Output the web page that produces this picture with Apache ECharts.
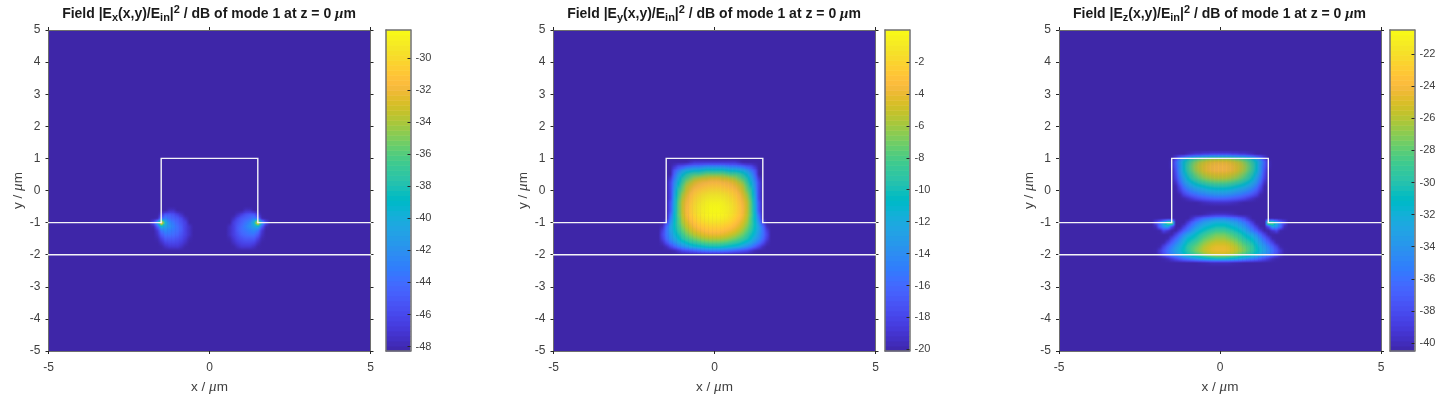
<!DOCTYPE html>
<html><head><meta charset="utf-8">
<style>html,body{margin:0;padding:0;background:#fff}#c{width:1445px;height:394px}</style>
<script src="https://cdn.jsdelivr.net/npm/echarts@6/dist/echarts.min.js"></script>
</head><body><div id="c"></div>
<script>
// Values are dB. Rows hold x = 0, 0.125, 0.25 ... on the right half; the field is mirror symmetric in x.
const cellStep = 0.125;
const exY = [-0.625,-0.75,-0.875,-1,-1.125,-1.25,-1.375,-1.5,-1.625,-1.75];
const exRows = [
[-49,-49,-49,-49,-49,-49,-49,-49,-49,-47.5,-47.5],
[-49,-49,-49,-49,-49,-49,-49,-47.5,-46.5,-45.5,-45,-45,-47],
[-49,-49,-49,-49,-49,-49,-47.5,-46,-45,-44.5,-44,-43,-44,-48],
[-49,-49,-49,-49,-49,-49,-46.5,-45.5,-44.5,-43.5,-42.5,-39.5,-29,-41,-46],
[-49,-49,-49,-49,-49,-47.5,-46.5,-45,-44,-43,-42,-41,-40,-45,-48],
[-49,-49,-49,-49,-49,-47.5,-46.5,-45,-44,-43.5,-43,-42.5,-43.5,-47],
[-49,-49,-49,-49,-49,-47.5,-46.5,-45.5,-44.5,-44,-43.7,-43.7,-45,-47.5],
[-49,-49,-49,-49,-49,-48,-47,-46,-45.5,-45,-45,-45,-46.5,-48],
[-49,-49,-49,-49,-49,-49,-47.5,-46.7,-46.2,-46,-46,-46.3,-47.5],
[-49,-49,-49,-49,-49,-49,-48.2,-47.5,-47,-47,-47,-47.5,-48.2]
];
const eyY = [0.875,0.75,0.625,0.5,0.375,0.25,0.125,0,-0.125,-0.25,-0.375,-0.5,-0.625,-0.75,-0.875,-1,-1.125,-1.25,-1.375,-1.5,-1.625,-1.75,-1.875];
const eyRows = [
[-19,-19,-19,-19,-19,-19,-19.5],
[-14,-14,-14,-14.5,-15,-15,-15.5,-16,-17,-17.5,-19],
[-10,-10,-10,-10.5,-11,-11,-11.5,-12,-13,-15,-17],
[-7,-7,-7,-7.5,-8,-8,-8.5,-9.5,-11,-13,-16],
[-4.5,-4.5,-5,-5,-5.5,-6,-7,-8,-9.5,-12,-15,-19],
[-3.3,-3.3,-3.5,-3.7,-4,-4.5,-5.5,-6.5,-8.5,-11,-14,-18],
[-2.5,-2.5,-2.7,-3,-3.3,-3.8,-4.5,-5.5,-7.5,-10,-13.5,-18],
[-1.7,-1.7,-2,-2.2,-2.6,-3,-4,-5,-7,-9,-13,-18],
[-1,-1,-1.2,-1.5,-2,-2.5,-3.3,-4.5,-6,-8.5,-12.5,-18],
[-0.6,-0.6,-0.8,-1.1,-1.6,-2.1,-3,-4,-5.5,-8,-12,-18],
[-0.2,-0.2,-0.4,-0.8,-1.3,-1.9,-2.7,-3.7,-5,-7.5,-12,-17],
[0,0,-0.3,-0.6,-1.1,-1.7,-2.5,-3.5,-5,-7.5,-11.5,-17],
[0,0,-0.3,-0.6,-1.1,-1.7,-2.5,-3.5,-5,-7.5,-11.5,-17],
[-0.3,-0.3,-0.5,-0.8,-1.3,-1.9,-2.7,-3.7,-5.2,-7.5,-11,-16],
[-0.7,-0.7,-0.9,-1.2,-1.7,-2.3,-3.1,-4.1,-5.5,-8,-11,-15],
[-1.4,-1.4,-1.6,-1.9,-2.3,-2.9,-3.7,-4.7,-6,-8,-10.5,-14,-18],
[-2.2,-2.2,-2.4,-2.7,-3,-3.6,-4.3,-5.3,-6.7,-8.5,-10.5,-13,-16,-19.5],
[-3,-3,-3.2,-3.5,-3.9,-4.4,-5.2,-6.2,-7.5,-9,-11,-13,-15.5,-18.5],
[-4,-4,-4.2,-4.5,-5,-5.5,-6.3,-7.2,-8.5,-10,-11.5,-13.5,-15.5,-18],
[-5.5,-5.5,-5.7,-6,-6.5,-7,-7.7,-8.5,-9.5,-11,-12.5,-14,-16,-18.5],
[-7.5,-7.5,-7.7,-8,-8.5,-9,-9.5,-10.5,-11.5,-12.5,-14,-15.5,-17.5,-19.5],
[-10,-10,-10.3,-10.7,-11,-11.5,-12,-13,-14,-15,-16.5,-18,-19.5],
[-15,-15,-15.2,-15.5,-16,-16.5,-17,-17.5,-18,-19,-19.8]
];
const ezY = [1.125,1,0.875,0.75,0.625,0.5,0.375,0.25,0.125,0,-0.125,-0.25,-0.375,-0.75,-0.875,-1,-1.125,-1.25,-1.375,-1.5,-1.625,-1.75,-1.875,-2,-2.125,-2.25];
const ezRows = [
[-38,-38,-38,-38.5,-38.5,-39,-39,-39.5,-40],
[-27,-27,-27,-27.5,-28,-28.5,-29,-30,-31,-33,-35,-38],
[-24.5,-24.5,-24.7,-25,-25.5,-26,-27,-28,-29.5,-31,-33.5,-36.5,-40],
[-24,-24,-24.2,-24.5,-25,-25.6,-26.4,-27.6,-29,-31,-34,-37,-40],
[-24,-24,-24.2,-24.5,-25,-25.8,-26.6,-27.8,-29.2,-31.2,-34,-37.5,-40.5],
[-25,-25,-25.2,-25.5,-26,-26.7,-27.5,-28.7,-30,-32,-34.5,-38],
[-26,-26,-26.2,-26.6,-27,-27.7,-28.5,-29.5,-31,-33,-35.5,-38.5],
[-28,-28,-28.2,-28.5,-29,-29.5,-30.3,-31.2,-32.5,-34,-36.5,-39.5],
[-30,-30,-30.2,-30.5,-31,-31.5,-32,-33,-34,-35.5,-38,-40.3],
[-32,-32,-32.2,-32.5,-33,-33.5,-34,-34.7,-35.7,-37,-39,-40.4],
[-34,-34,-34.2,-34.5,-35,-35.3,-36,-36.5,-37.5,-38.5,-40.2],
[-36.5,-36.5,-36.7,-37,-37.3,-37.7,-38.2,-39,-39.7,-40.3],
[-39.5,-39.5,-39.6,-39.8,-40,-40.3],
[-39.5,-39.5,-39.7,-40,-40.3],
[-34.5,-34.5,-35,-35.5,-36,-37,-38,-39.5],
[-32,-32,-32.3,-33,-33.5,-34.5,-35.5,-37,-39,-41,-41,-41,-26,-28,-32,-36,-38.5],
[-30.5,-30.5,-31,-31.5,-32,-33,-34,-35.5,-37,-39,-41,-41,-38,-33,-34,-36.5,-40],
[-29,-29,-29.5,-30,-30.7,-31.5,-32.5,-34,-35.5,-37,-39,-41,-41,-39.5,-38.5,-40.4],
[-27.5,-27.5,-28,-28.5,-29.2,-30,-31,-32,-33,-34.5,-36.5,-38.5,-40.3],
[-26.5,-26.5,-27,-27.5,-28,-29,-30,-30.8,-31.5,-33,-34.8,-36.6,-38.4,-40.3],
[-25.5,-25.5,-25.8,-26.3,-27,-27.8,-28.8,-29.6,-30.5,-32,-33.6,-35.2,-36.8,-38.6,-40.3],
[-24.7,-24.7,-25,-25.5,-26,-27,-27.8,-28.6,-29.5,-31,-32.5,-33.8,-35.3,-36.8,-38.5,-40.3],
[-24.5,-24.5,-24.7,-25.2,-25.7,-26.5,-27.3,-28.4,-29.5,-30.7,-32,-33.2,-34.5,-36,-37.5,-39.2,-40.4],
[-25.5,-25.5,-25.8,-26.3,-27,-28,-28.8,-29.6,-30.5,-31.5,-33,-34,-35,-36.5,-38,-39.5,-40.4],
[-31,-31,-31.3,-31.8,-32.3,-33,-33.7,-34.5,-35.3,-36,-37,-38,-39,-40,-40.4],
[-40,-40,-40,-40.2,-40.3,-40.4]
];
const ribX = [-5,-1.5,-1.5,1.5,1.5,5];
const ribY = [-1,-1,1,1,-1,-1];
const substrateX = [-5,5];
const substrateY = [-2,-2];
const exBar = [-48,-46,-44,-42,-40,-38,-36,-34,-32,-30];
const eyBar = [-20,-18,-16,-14,-12,-10,-8,-6,-4,-2];
const ezBar = [-40,-38,-36,-34,-32,-30,-28,-26,-24,-22];
const parulaRGB = [[.2422,.1504,.6603],[.2504,.165,.7076],[.2578,.1818,.7511],[.2647,.1978,.7952],[.2706,.2147,.8364],[.2751,.2342,.871],[.2783,.2559,.8991],[.2803,.2782,.9221],[.2813,.3006,.9414],[.281,.3228,.9579],[.2795,.3447,.9717],[.276,.3667,.9829],[.2699,.3892,.9906],[.2602,.4123,.9952],[.244,.4358,.9988],[.2206,.4603,.9973],[.1963,.4847,.9892],[.1834,.5074,.9798],[.1786,.5289,.9682],[.1764,.5499,.952],[.1687,.5703,.9359],[.154,.5902,.9218],[.146,.6091,.9079],[.138,.6276,.8973],[.1248,.6459,.8883],[.1113,.6635,.8763],[.0952,.6798,.8598],[.0689,.6948,.8394],[.0297,.7082,.8163],[.0036,.7203,.7917],[.0067,.7312,.766],[.0433,.7411,.7394],[.0964,.75,.712],[.1408,.7584,.6842],[.1717,.767,.6554],[.1938,.7758,.6251],[.2161,.7843,.5923],[.247,.7918,.5567],[.2906,.7973,.5188],[.3406,.8008,.4789],[.3909,.8029,.4354],[.4456,.8024,.3909],[.5044,.7993,.348],[.5616,.7942,.3045],[.6174,.7876,.2612],[.672,.7793,.2227],[.7242,.7698,.191],[.7738,.7598,.1646],[.8203,.7498,.1535],[.8634,.7406,.1596],[.9035,.733,.1774],[.9393,.7288,.21],[.9728,.7298,.2394],[.9956,.7434,.2371],[.997,.7659,.2199],[.9952,.7893,.2028],[.9892,.8136,.1885],[.9786,.8386,.1766],[.9676,.8639,.1643],[.961,.889,.1537],[.9597,.9135,.1423],[.9628,.9373,.1265],[.9691,.9606,.1064],[.9769,.9839,.0805]];
const parula = parulaRGB.map(c=>`rgb(${c.map(v=>Math.round(v*255)).join(',')})`);

const FONT = '"Liberation Sans", Arial, sans-serif';
const serif = '"Liberation Serif", serif';
const TXT = '#404040', FRAME = '#6e6e6e', TICK = '#262626';
const panels = [
 {sub:'x', rows:exRows, ys:exY, min:-48.27, max:-28.27, bar:exBar, gx:48.5, cx:386},
 {sub:'y', rows:eyRows, ys:eyY, min:-20.1, max:0, bar:eyBar, gx:553.5, cx:885},
 {sub:'z', rows:ezRows, ys:ezY, min:-40.5, max:-20.5, bar:ezBar, gx:1059, cx:1390}
];
const GW=322, GH=321, GT=30, CW=24.5, STRIPS=4;

// Shading between cell centres, the way the original's interpolated shading does it; only the display is smoothed.
const colorOf=(v,P)=>{
  const t=Math.min(63,Math.max(0,(v-P.min)/(P.max-P.min)*63)), i=Math.min(62,Math.floor(t)), f=t-i;
  const a=parulaRGB[i], b=parulaRGB[i+1];
  return `rgb(${[0,1,2].map(k=>Math.round((a[k]+(b[k]-a[k])*f)*255)).join(',')})`;
};
const fieldAt=(P,x,y)=>{
  const fx=x/cellStep, fy=y/cellStep, ix=Math.floor(fx+1e-6), iy=Math.floor(fy+1e-6), dx=fx-ix, dy=fy-iy;
  const g=(a,b)=>{const v=P.map.get(a+','+b);return v===undefined?P.min:v;};
  return (g(ix,iy)*(1-dx)+g(ix+1,iy)*dx)*(1-dy)+(g(ix,iy+1)*(1-dx)+g(ix+1,iy+1)*dx)*dy;
};
const cellRender = P => (p,api)=>{
  const x=api.value(0), y=api.value(1), h=cellStep/2, children=[];
  for(let s=0;s<STRIPS;s++){
    const top=y+h-s*2*h/STRIPS, bot=top-2*h/STRIPS, mid=(top+bot)/2;
    const a=api.coord([x-h,top]), b=api.coord([x+h,bot]);
    children.push({type:'rect',shape:{x:a[0],y:a[1],width:b[0]-a[0]+.4,height:b[1]-a[1]+.4},
      style:{fill:new echarts.graphic.LinearGradient(0,0,1,0,[
        {offset:0,color:colorOf(fieldAt(P,x-h,mid),P)},
        {offset:.5,color:colorOf(fieldAt(P,x,mid),P)},
        {offset:1,color:colorOf(fieldAt(P,x+h,mid),P)}])}});
  }
  return {type:'group',children};
};
const barRender = (min,max)=>(p,api)=>{
  const v=api.value(1), h=(max-min)/64/2;
  const a=api.coord([0,v+h]), b=api.coord([1,v-h]);
  return {type:'rect',shape:{x:a[0],y:a[1],width:b[0]-a[0],height:b[1]-a[1]+.5},style:{fill:api.visual('color')}};
};
const pairs=(xs,ys)=>xs.map((x,i)=>[x,ys[i]]);
const grid=[],xAxis=[],yAxis=[],series=[],visualMap=[],title=[];
const axName={n:{fontFamily:FONT,fontSize:13.5,color:TXT},i:{fontFamily:serif,fontStyle:'italic',fontSize:15,color:TXT}};
panels.forEach(P=>{
  P.map=new Map();
  P.rows.forEach((r,j)=>r.forEach((v,i)=>{
    if(v<=P.min) return;
    const iy=Math.round(P.ys[j]/cellStep);
    P.map.set(i+','+iy,v);
    P.map.set((-i)+','+iy,v);
  }));
  const cellKeys=new Set();
  P.map.forEach((v,k)=>{const [a,b]=k.split(',').map(Number);
    for(let da=-1;da<=1;da++)for(let db=-1;db<=1;db++)cellKeys.add((a+da)+','+(b+db));});
  const cells=[...cellKeys].map(k=>{const [a,b]=k.split(',').map(Number);
    return [a*cellStep,b*cellStep,P.map.has(k)?P.map.get(k):P.min];});
  const barData=[];
  for(let i=0;i<64;i++){const v=P.min+(i+.5)*(P.max-P.min)/64;barData.push([0,v,v]);}
  const g=grid.length;
  grid.push({left:P.gx,top:GT,width:GW,height:GH,show:true,backgroundColor:parula[0],borderWidth:0,outerBoundsMode:'none'});
  grid.push({left:P.cx,top:GT,width:CW,height:GH,show:false,outerBoundsMode:'none'});
  const hiddenLabel={show:false};
  const line={show:true,onZero:false,lineStyle:{color:FRAME,width:1}};
  const barLine={show:true,onZero:false,lineStyle:{color:'#707070',width:1.5}};
  const tickOut={show:true,length:3,inside:false,lineStyle:{color:TICK,width:1}};
  const lab={color:TXT,fontSize:12,fontFamily:FONT};
  const ax0=xAxis.length;
  xAxis.push({gridIndex:g,type:'value',min:-5,max:5,interval:5,position:'bottom',axisLine:line,axisTick:tickOut,splitLine:{show:false},
    axisLabel:{...lab,margin:11,formatter:v=>String(v)},
    name:'{n|x / }{i|μ}{n|m}',nameLocation:'middle',nameGap:29,nameTextStyle:{rich:axName}});
  xAxis.push({gridIndex:g,type:'value',min:-5,max:5,interval:5,position:'top',axisLine:line,axisTick:tickOut,splitLine:{show:false},axisLabel:hiddenLabel});
  xAxis.push({gridIndex:g+1,z:10,type:'value',min:0,max:1,position:'bottom',axisLine:barLine,axisTick:{show:false},splitLine:{show:false},axisLabel:hiddenLabel});
  xAxis.push({gridIndex:g+1,z:10,type:'value',min:0,max:1,position:'top',axisLine:barLine,axisTick:{show:false},splitLine:{show:false},axisLabel:hiddenLabel});
  const ay0=yAxis.length;
  yAxis.push({gridIndex:g,type:'value',min:-5,max:5,interval:1,position:'left',axisLine:line,axisTick:tickOut,splitLine:{show:false},
    axisLabel:{...lab,margin:8,formatter:v=>String(v),verticalAlignMinLabel:'middle',verticalAlignMaxLabel:'middle'},
    name:'{n|y / }{i|μ}{n|m}',nameLocation:'middle',nameGap:16,nameRotate:90,nameTextStyle:{rich:axName}});
  yAxis.push({gridIndex:g,type:'value',min:-5,max:5,interval:1,position:'right',axisLine:line,axisTick:tickOut,splitLine:{show:false},axisLabel:hiddenLabel});
  yAxis.push({gridIndex:g+1,z:10,type:'value',min:P.min,max:P.max,position:'left',axisLine:barLine,axisTick:{show:false},splitLine:{show:false},axisLabel:hiddenLabel});
  yAxis.push({gridIndex:g+1,z:10,type:'value',min:P.min,max:P.max,position:'right',axisLine:barLine,splitLine:{show:false},
    axisTick:{show:true,inside:true,length:3,lineStyle:{color:TICK,width:1},customValues:P.bar},
    axisLabel:{show:true,color:TXT,fontSize:11,fontFamily:FONT,margin:5,customValues:P.bar,formatter:v=>String(v)}});
  const s0=series.length;
  series.push({type:'custom',xAxisIndex:ax0,yAxisIndex:ay0,coordinateSystem:'cartesian2d',renderItem:cellRender(P),data:cells,encode:{x:0,y:1},animation:false,silent:true,progressive:0});
  series.push({type:'custom',xAxisIndex:ax0+2,yAxisIndex:ay0+2,coordinateSystem:'cartesian2d',renderItem:barRender(P.min,P.max),data:barData,encode:{x:0,y:1},animation:false,silent:true,z:1});
  visualMap.push({show:false,type:'continuous',seriesIndex:[s0+1],dimension:2,min:P.min,max:P.max,inRange:{color:parula}});
  const wl={type:'line',xAxisIndex:ax0,yAxisIndex:ay0,symbol:'none',animation:false,silent:true,z:5,lineStyle:{color:'#f4f4f8',width:1.4,cap:'square',join:'miter'}};
  series.push({...wl,data:pairs(ribX,ribY)});
  series.push({...wl,data:pairs(substrateX,substrateY)});
  const tn={fontFamily:FONT,fontWeight:'bold',color:'#1a1a1a'};
  title.push({left:P.gx+GW/2-5.5,top:-2,textAlign:'center',
    text:`{n|Field |E}{s|${P.sub}}{n|(x,y)/E}{s|in}{n||}{u|2}{n| / dB of mode 1 at z = 0 }{i|μ}{n|m}`,
    textStyle:{rich:{
      n:{...tn,fontSize:14,lineHeight:22,height:22},
      s:{...tn,fontSize:11,verticalAlign:'bottom',lineHeight:22,height:15},
      u:{...tn,fontSize:11,verticalAlign:'top',lineHeight:22,height:13},
      i:{...tn,fontFamily:serif,fontStyle:'italic',fontSize:15,lineHeight:22,height:22}
    }}});
});
const chart=echarts.init(document.getElementById('c'),null,{renderer:'canvas'});
chart.setOption({animation:false,backgroundColor:'#fff',title,grid,xAxis,yAxis,series,visualMap,tooltip:{show:false}});
</script></body></html>
